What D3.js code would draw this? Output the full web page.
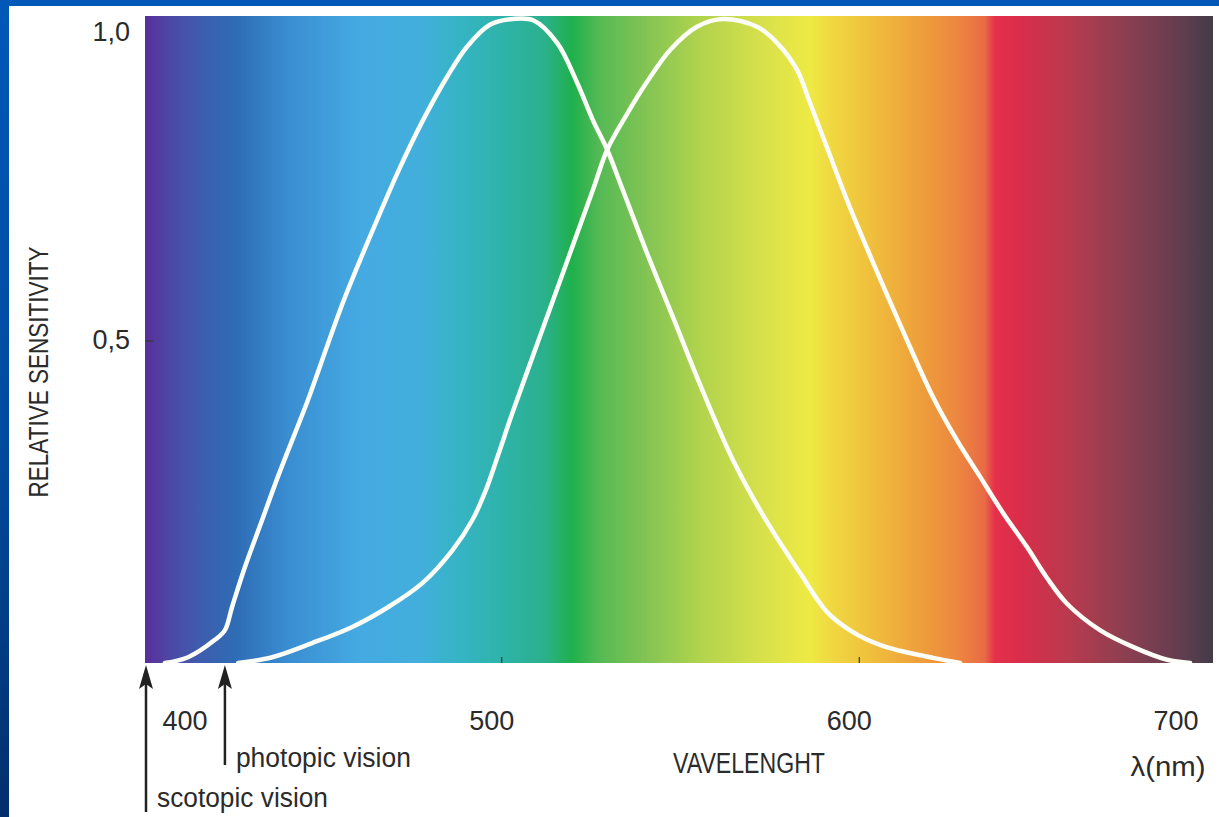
<!DOCTYPE html>
<html><head><meta charset="utf-8">
<script src="https://cdn.jsdelivr.net/npm/d3@7"></script>
<style>html,body{margin:0;padding:0;overflow:hidden;background:#fff}</style>
</head><body>
<svg id="chart" width="1219" height="817"></svg>
<script>
// ---------- data ----------
const scotopicWavelength = [405.8,412.3,419.8,422.6,424.6,428.2,433.0,437.4,442.2,445.8,455.9,466.0,471.6,478.0,484.7,490.3,496.7,503.2,508.8,515.5,521.1,525.5,529.5,533.9,540.6,547.9,555.5,564.7,574.2,583.4,591.0,598.2,605.8,611.4,620.6,628.2];
const scotopicValue      = [0,0.009,0.036,0.051,0.087,0.149,0.222,0.289,0.357,0.408,0.564,0.699,0.770,0.843,0.910,0.957,0.991,1.0,0.998,0.963,0.901,0.843,0.797,0.734,0.637,0.537,0.432,0.315,0.219,0.140,0.079,0.048,0.028,0.019,0.008,0];
const photopicWavelength = [426.3,435.8,447.0,458.2,468.3,477.8,486.2,491.8,495.4,499.0,502.9,509.9,518.3,525.6,529.5,535.0,540.6,547.1,554.6,561.9,571.4,577.0,582.6,586.2,591.0,597.4,605.0,612.8,620.6,627.3,633.8,640.2,646.9,652.5,658.1,667.3,676.5,686.1,692.5];
const photopicValue      = [0,0.009,0.031,0.056,0.087,0.124,0.175,0.222,0.266,0.323,0.387,0.495,0.624,0.736,0.797,0.852,0.902,0.952,0.988,1.0,0.988,0.963,0.921,0.870,0.800,0.707,0.607,0.508,0.413,0.346,0.289,0.233,0.180,0.132,0.092,0.051,0.025,0.005,0];
const xTickValues = [400,500,600,700];
const xTickLabels = ["400","500","600","700"];
const yTickValues = [1.0,0.5];
const yTickLabels = ["1,0","0,5"];
const arrowWavelengths = [400.5, 422.6];
const arrowLabels = ["scotopic vision","photopic vision"];

// spectrum background (style)
const spectrumStops = [
 [400.3,"#5a2e98"],[407.2,"#4c48a6"],[415.6,"#3f5cae"],[425.4,"#2e6cb5"],[440.8,"#3a8ed2"],
 [460.4,"#45aae2"],[477.2,"#42afdc"],[488.4,"#35b4c4"],[502.3,"#2db3a4"],[512.1,"#2bb08c"],
 [519.7,"#1fb04c"],[527.5,"#56ba55"],[541.5,"#86c553"],[555.4,"#b1d34d"],[572.2,"#d6e04b"],
 [586.2,"#eeea44"],[591.7,"#f0d941"],[602.9,"#f0c03d"],[616.9,"#ee9f3b"],[628.1,"#ec8540"],
 [635.1,"#e96a46"],[637.9,"#e5304b"],[644.9,"#da2d4a"],[658.9,"#b83a4e"],[672.9,"#903f50"],
 [686.9,"#6a3e50"],[698.9,"#453b49"]
];

// ---------- layout ----------
const W = 1219, H = 817;
const plot = {left:145, right:1213, top:16, bottom:663};
const svg = d3.select("#chart");
const x = d3.scaleLinear().domain([400,700]).range([144.1,1216.9]);
const y = d3.scaleLinear().domain([0,1]).range([plot.bottom,19]);

// slide frame
const defs = svg.append("defs");
const sideGrad = defs.append("linearGradient").attr("id","side").attr("x1",0).attr("y1",0).attr("x2",0).attr("y2",1);
sideGrad.append("stop").attr("offset","0%").attr("stop-color","#0058b8");
sideGrad.append("stop").attr("offset","55%").attr("stop-color","#004a9e");
sideGrad.append("stop").attr("offset","100%").attr("stop-color","#022f6c");
svg.append("rect").attr("width",W).attr("height",H).attr("fill","url(#side)");
svg.append("rect").attr("width",W).attr("height",6).attr("fill","#0058b8");
svg.append("rect").attr("x",9).attr("y",6).attr("width",W-9).attr("height",H-6).attr("fill","#ffffff");

// spectrum
const spec = defs.append("linearGradient").attr("id","spec")
  .attr("gradientUnits","userSpaceOnUse")
  .attr("x1",plot.left).attr("x2",plot.right).attr("y1",0).attr("y2",0);
spectrumStops.forEach(([w,c])=>{
  spec.append("stop").attr("offset",((x(w)-plot.left)/(plot.right-plot.left)*100)+"%").attr("stop-color",c);
});
defs.append("clipPath").attr("id","clip").append("rect")
  .attr("x",plot.left).attr("y",plot.top).attr("width",plot.right-plot.left).attr("height",plot.bottom-plot.top);
svg.append("rect").attr("x",plot.left).attr("y",plot.top)
  .attr("width",plot.right-plot.left).attr("height",plot.bottom-plot.top).attr("fill","url(#spec)");

// ticks
const tickG = svg.append("g").attr("stroke","#2a3a3a").attr("stroke-width",1.2);
xTickValues.filter(v=>v>x.invert(plot.left+2) && v<x.invert(plot.right-2)).forEach(v=>{
  tickG.append("line").attr("x1",x(v)).attr("x2",x(v)).attr("y1",plot.bottom-6).attr("y2",plot.bottom);
});
yTickValues.filter(v=>v<1).forEach(v=>{
  tickG.append("line").attr("x1",plot.left).attr("x2",plot.left+8).attr("y1",y(v)).attr("y2",y(v));
});

// curves
const line = d3.line().x(d=>x(d[0])).y(d=>y(d[1])).curve(d3.curveCatmullRom.alpha(0.5));
const curveG = svg.append("g").attr("clip-path","url(#clip)");
[[scotopicWavelength,scotopicValue],[photopicWavelength,photopicValue]].forEach(([w,v])=>{
  const pts = w.map((d,i)=>[d,v[i]]);
  curveG.append("path").datum(pts).attr("d",line)
    .attr("fill","none").attr("stroke","#fbfdf6").attr("stroke-width",4.5)
    .attr("stroke-linejoin","round").attr("stroke-linecap","round");
});

// text
const txt = "#2b2b2b";
const ff = "'Liberation Sans', Arial, sans-serif";
const ffn = "'Liberation Sans Narrow', 'Liberation Sans', Arial, sans-serif";
yTickValues.forEach((v,i)=>{
  svg.append("text").attr("x",plot.left-15).attr("y",y(v)+ (v===1? 22 : 8))
    .attr("text-anchor","end").attr("font-family",ff).attr("font-size",27).attr("fill",txt)
    .text(yTickLabels[i]);
});
xTickValues.forEach((v,i)=>{
  const cx = Math.max(plot.left+40, Math.min(plot.right-37, x(v)-10));
  svg.append("text").attr("x",cx).attr("y",730).attr("text-anchor","middle")
    .attr("font-family",ff).attr("font-size",27).attr("fill",txt).text(xTickLabels[i]);
});
svg.append("text").attr("x",749).attr("y",773).attr("text-anchor","middle")
  .attr("font-family",ffn).attr("font-size",29).attr("fill",txt)
  .attr("textLength",152).attr("lengthAdjust","spacingAndGlyphs").text("VAVELENGHT");
svg.append("text").attr("x",1168).attr("y",776).attr("text-anchor","middle")
  .attr("font-family",ff).attr("font-size",27).attr("fill",txt)
  .attr("textLength",75).attr("lengthAdjust","spacingAndGlyphs").text("λ(nm)");
svg.append("text").attr("transform","translate(48,372) rotate(-90)").attr("text-anchor","middle")
  .attr("font-family",ffn).attr("font-size",28).attr("fill",txt)
  .attr("textLength",251).attr("lengthAdjust","spacingAndGlyphs").text("RELATIVE SENSITIVITY");

// arrows
const arrowBottoms = [812, 765];
const labelBaselines = [807, 767];
const labelWidths = [171, 175];
arrowWavelengths.forEach((w,i)=>{
  const ax = Math.max(plot.left+1, x(w));
  const tip = plot.bottom+2;
  svg.append("line").attr("x1",ax).attr("x2",ax).attr("y1",tip+14).attr("y2",arrowBottoms[i])
    .attr("stroke","#222").attr("stroke-width",2.5);
  svg.append("path").attr("d",`M${ax},${tip} L${ax+7},${tip+24} L${ax},${tip+19} L${ax-7},${tip+24} Z`)
    .attr("fill","#222");
  svg.append("text").attr("x",ax+11).attr("y",labelBaselines[i])
    .attr("font-family",ffn).attr("font-size",27).attr("fill",txt)
    .attr("textLength",labelWidths[i]).attr("lengthAdjust","spacingAndGlyphs").text(arrowLabels[i]);
});
</script>
</body></html>
